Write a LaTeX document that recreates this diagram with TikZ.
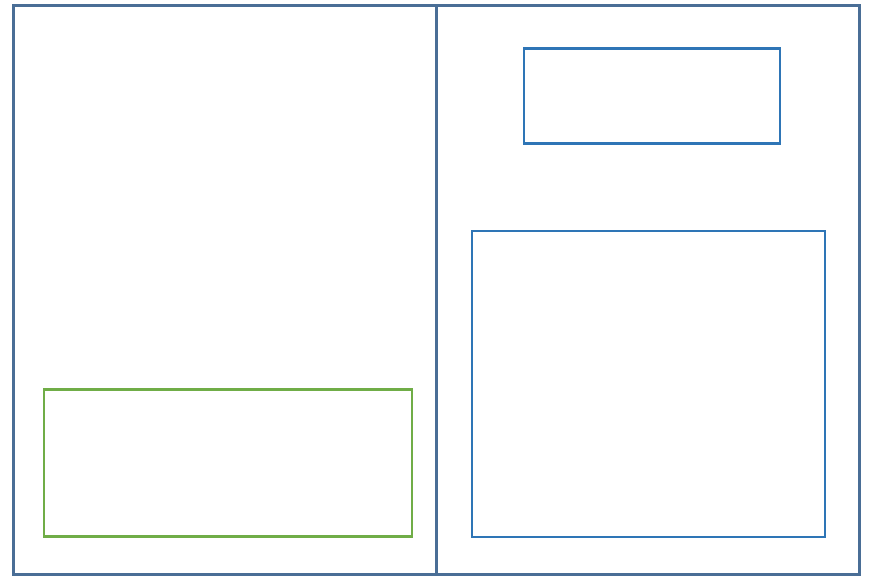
\documentclass[tikz,border=0pt]{standalone}
\usepackage{tikz}
\usetikzlibrary{positioning}
\definecolor{framesteel}{HTML}{4A6E96}
\definecolor{panelblue}{HTML}{2E75B6}
\definecolor{panelgreen}{HTML}{70AD47}

\begin{document}
\begin{tikzpicture}[
  x=1pt, y=-1pt,
  frame/.style={draw=framesteel, line width=3pt},
  bluebox/.style={rectangle, draw=panelblue, line width=2.5pt, inner sep=0pt},
  greenbox/.style={rectangle, draw=panelgreen, line width=2.5pt, inner sep=0pt}
]
  \useasboundingbox (0,0) rectangle (877,576);
  \fill[white] (0,0) rectangle (877,576);

  % outer frame and divider
  \draw[frame] (13,5) rectangle (859,574);
  \draw[frame] (436,5) -- (436,574);

  % panels
  \node[bluebox, minimum width=256pt, minimum height=95pt] (header) at (652,96) {};
  \node[bluebox, minimum width=353pt, minimum height=306pt] (content) at (648.5,384) {};
  \node[greenbox, minimum width=368pt, minimum height=147pt] (footer) at (228,463) {};
\end{tikzpicture}
\end{document}
